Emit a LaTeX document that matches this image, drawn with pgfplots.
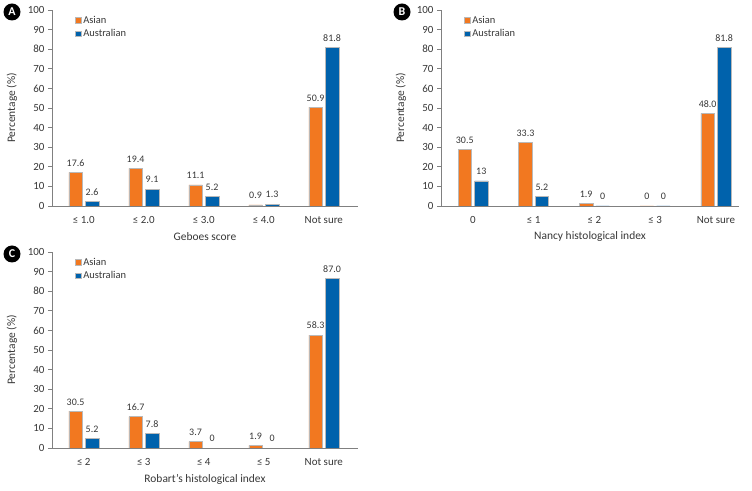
\documentclass[border=0pt]{standalone}
\usepackage{pgfplots}
\pgfplotsset{compat=1.18}
\usepackage{fontspec}
\setmainfont{Carlito}
\setsansfont{Carlito}

\definecolor{asian}{RGB}{242,120,32}
\definecolor{austr}{RGB}{0,98,172}
\definecolor{axgray}{RGB}{128,128,128}
\definecolor{txt}{RGB}{55,55,55}

\pgfplotsset{
  sq legend/.style={legend image code/.code={\draw[##1] (0bp,-2.8bp) rectangle (5.6bp,2.8bp);}},
  panel/.style={
    scale only axis, height=196bp,
    ybar=3bp, bar width=13.5bp,
    ymin=0, ymax=100, ytick={0,10,...,100},
    xtick={0,...,4},
    axis x line=bottom, axis y line=left,
    axis line style={axgray, line width=0.9pt, -},
    y tick style={axgray, line width=0.9pt},
    x tick style={draw=none},
    tick align=outside, major tick length=4bp,
    every tick label/.append style={font=\fontsize{11}{12}\selectfont, text=txt},
    xticklabel style={yshift=-3bp},
    /pgf/number format/assume math mode=true,
    ylabel={Percentage (\%)},
    every axis y label/.style={at={(axis description cs:0,0.5)}, xshift=-40bp, rotate=90, anchor=center, font=\fontsize{11.5}{12}\selectfont, text=txt},
    every axis x label/.style={at={(axis description cs:0.5,0)}, yshift=-31bp, anchor=center, font=\fontsize{11.5}{12}\selectfont, text=txt},
    nodes near coords, point meta=explicit symbolic,
    every node near coord/.append style={font=\fontsize{10}{11}\selectfont, text=txt, yshift=2.5bp},
    legend style={draw=none, fill=none, at={(axis description cs:0,1)}, anchor=north west,
      xshift=20bp, yshift=-2bp, font=\fontsize{10.5}{11}\selectfont, text=txt, row sep=0.5bp},
    legend cell align=left,
  },
  asianbar/.style={fill=asian, draw=gray!55, line width=0.5pt, sq legend},
  austrbar/.style={fill=austr, draw=gray!55, line width=0.5pt, sq legend},
}

\begin{document}
\begin{tikzpicture}
\path (0,0) rectangle (752bp,491bp);

% A
\begin{axis}[panel, width=306bp, at={(52bp,285bp)}, anchor=south west,
  xmin=-0.53, xmax=4.57,
  xticklabels={{≤ 1.0},{≤ 2.0},{≤ 3.0},{≤ 4.0},{Not sure}},
  xlabel={Geboes score}]
\addplot[asianbar] coordinates {(0,17.2)[17.6] (1,19.2)[19.4] (2,10.8)[11.1] (3,0.6)[0.9] (4,50.4)[50.9]};
\addlegendentry{Asian}
\addplot[austrbar] coordinates {(0,2.4)[2.6] (1,8.6)[9.1] (2,4.9)[5.2] (3,1.0)[1.3] (4,81.0)[81.8]};
\addlegendentry{Australian}
\end{axis}

% B
\begin{axis}[panel, width=298bp, at={(441bp,285bp)}, anchor=south west,
  xmin=-0.527, xmax=4.38,
  xticklabels={{0},{≤ 1},{≤ 2},{≤ 3},{Not sure}},
  xlabel={Nancy histological index}]
\addplot[asianbar] coordinates {(0,29.0)[30.5] (1,32.5)[33.3] (2,1.4)[1.9] (3,0)[0] (4,47.3)[48.0]};
\addlegendentry{Asian}
\addplot[austrbar] coordinates {(0,12.8)[13] (1,4.8)[5.2] (2,0)[0] (3,0)[0] (4,81.0)[81.8]};
\addlegendentry{Australian}
\end{axis}

% C
\begin{axis}[panel, width=306bp, at={(52bp,43bp)}, anchor=south west,
  xmin=-0.53, xmax=4.57,
  xticklabels={{≤ 2},{≤ 3},{≤ 4},{≤ 5},{Not sure}},
  xlabel={Robart's histological index}]
\addplot[asianbar] coordinates {(0,18.8)[30.5] (1,16.0)[16.7] (2,3.2)[3.7] (3,1.4)[1.9] (4,57.6)[58.3]};
\addlegendentry{Asian}
\addplot[austrbar] coordinates {(0,4.8)[5.2] (1,7.3)[7.8] (2,0)[0] (3,0)[0] (4,86.5)[87.0]};
\addlegendentry{Australian}
\end{axis}

\begin{scope}[every node/.style={circle, fill=black, text=white, inner sep=0pt, minimum size=17bp, font=\bfseries\fontsize{12}{12}\selectfont}]
\node at (12bp,479bp) {A};
\node at (402bp,479bp) {B};
\node at (12bp,237bp) {C};
\end{scope}
\end{tikzpicture}
\end{document}
